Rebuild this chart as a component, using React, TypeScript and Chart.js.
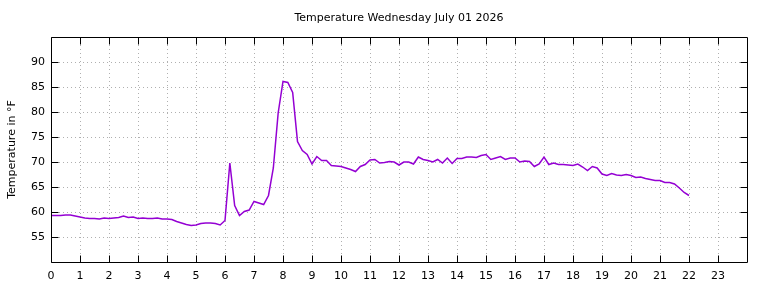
import { useEffect, useRef } from "react";
import { Chart, registerables } from "chart.js";

Chart.register(...registerables);

const TITLE = "Temperature Wednesday July 01 2026";
const Y_TITLE = "Temperature in °F";
const STEP_HOURS = 10 / 60; // one reading every 10 minutes, starting at 0:00
const TEMPS: number[] = [
  // 0h
  59.3, 59.3, 59.3, 59.4, 59.4, 59.2,
  // 1h
  59.0, 58.8, 58.7, 58.7, 58.6, 58.8,
  // 2h
  58.7, 58.8, 58.9, 59.2, 58.9, 59.0,
  // 3h
  58.7, 58.8, 58.7, 58.7, 58.8, 58.6,
  // 4h
  58.6, 58.5, 58.1, 57.8, 57.5, 57.3,
  // 5h
  57.4, 57.7, 57.8, 57.8, 57.7, 57.4,
  // 6h
  58.3, 69.8, 61.3, 59.3, 60.1, 60.4,
  // 7h
  62.1, 61.8, 61.5, 63.3, 68.8, 79.8,
  // 8h
  86.1, 85.9, 83.9, 74.1, 72.3, 71.5,
  // 9h
  69.6, 71.1, 70.3, 70.3, 69.3, 69.2,
  // 10h
  69.1, 68.8, 68.5, 68.1, 69.1, 69.5,
  // 11h
  70.4, 70.5, 69.8, 69.9, 70.1, 70.0,
  // 12h
  69.4, 70.0, 70.0, 69.6, 71.0, 70.5,
  // 13h
  70.3, 70.0, 70.5, 69.8, 70.8, 69.7,
  // 14h
  70.7, 70.7, 71.0, 71.0, 70.9, 71.3,
  // 15h
  71.5, 70.5, 70.8, 71.1, 70.5, 70.8,
  // 16h
  70.8, 70.0, 70.2, 70.1, 69.1, 69.6,
  // 17h
  71.0, 69.5, 69.8, 69.5, 69.5, 69.4,
  // 18h
  69.3, 69.6, 69.0, 68.3, 69.1, 68.8,
  // 19h
  67.6, 67.3, 67.7, 67.4, 67.3, 67.5,
  // 20h
  67.3, 66.9, 67.0, 66.7, 66.5, 66.3,
  // 21h
  66.3, 65.9, 65.9, 65.6, 64.8, 63.9,
  // 22h
  63.3,
];

const X_MIN = 0;
const X_MAX = 24;
const Y_MIN = 50;
const Y_MAX = 95;
const X_TICKS = [0, 1, 2, 3, 4, 5, 6, 7, 8, 9, 10, 11, 12, 13, 14, 15, 16, 17, 18, 19, 20, 21, 22, 23];
const Y_TICKS = [55, 60, 65, 70, 75, 80, 85, 90];

const FONT = "'DejaVu Sans', sans-serif";
const LINE_COLOR = "#9400d3";
const GRID_COLOR = "#b0b0b0";
const TICK_LEN = 7;

const framePlugin = {
  id: "gnuFrame",
  beforeDatasetsDraw(chart: any) {
    const { ctx, chartArea: a, scales } = chart;
    const xs = scales.x;
    const ys = scales.y;
    ctx.save();
    ctx.strokeStyle = GRID_COLOR;
    ctx.lineWidth = 1;
    ctx.setLineDash([1, 3]);
    for (const v of X_TICKS) {
      const px = Math.round(xs.getPixelForValue(v)) + 0.5;
      if (px <= a.left + 1 || px >= a.right - 1) continue;
      ctx.beginPath();
      ctx.moveTo(px, a.top);
      ctx.lineTo(px, a.bottom);
      ctx.stroke();
    }
    for (const v of Y_TICKS) {
      const py = Math.round(ys.getPixelForValue(v)) + 0.5;
      ctx.beginPath();
      ctx.moveTo(a.left, py);
      ctx.lineTo(a.right, py);
      ctx.stroke();
    }
    ctx.restore();
  },
  afterDatasetsDraw(chart: any) {
    const { ctx, chartArea: a, scales } = chart;
    const xs = scales.x;
    const ys = scales.y;
    const L = Math.round(a.left) + 0.5;
    const R = Math.round(a.right) + 0.5;
    const T = Math.round(a.top) + 0.5;
    const B = Math.round(a.bottom) + 0.5;
    ctx.save();
    ctx.strokeStyle = "#000";
    ctx.lineWidth = 1;
    ctx.setLineDash([]);
    ctx.beginPath();
    ctx.rect(L, T, R - L, B - T);
    ctx.stroke();
    ctx.beginPath();
    for (const v of X_TICKS) {
      const px = Math.round(xs.getPixelForValue(v)) + 0.5;
      ctx.moveTo(px, B);
      ctx.lineTo(px, B - TICK_LEN);
      ctx.moveTo(px, T);
      ctx.lineTo(px, T + TICK_LEN);
    }
    for (const v of Y_TICKS) {
      const py = Math.round(ys.getPixelForValue(v)) + 0.5;
      ctx.moveTo(L, py);
      ctx.lineTo(L + TICK_LEN, py);
      ctx.moveTo(R, py);
      ctx.lineTo(R - TICK_LEN, py);
    }
    ctx.stroke();
    // title centred over the plot area
    ctx.fillStyle = "#000";
    ctx.font = `11px ${FONT}`;
    ctx.textAlign = "center";
    ctx.textBaseline = "middle";
    ctx.fillText(TITLE, (a.left + a.right) / 2, 18);
    ctx.restore();
  },
};

export default function App() {
  const ref = useRef<HTMLCanvasElement>(null);

  useEffect(() => {
    if (!ref.current) return;
    const points = TEMPS.map((t, i) => ({ x: X_MIN + i * STEP_HOURS, y: t }));
    const chart = new Chart(ref.current, {
      type: "line",
      data: {
        datasets: [
          {
            data: points,
            borderColor: LINE_COLOR,
            borderWidth: 1.5,
            pointRadius: 0,
            tension: 0,
            fill: false,
          },
        ],
      },
      options: {
        responsive: false,
        animation: false,
        layout: { padding: { left: 0, right: 21, top: 37, bottom: 0 } },
        plugins: {
          legend: { display: false },
          tooltip: { enabled: false },
          title: { display: false },
        },
        scales: {
          x: {
            type: "linear",
            min: X_MIN,
            max: X_MAX,
            afterBuildTicks: (s: any) => {
              s.ticks = X_TICKS.map((v) => ({ value: v }));
            },
            afterFit: (s: any) => {
              s.height = 26;
            },
            grid: { display: false, drawTicks: false },
            border: { display: false },
            ticks: {
              color: "#000",
              font: { family: FONT, size: 11 },
              padding: 8,
              maxRotation: 0,
              autoSkip: false,
              callback: (v: any) => String(v),
            },
          },
          y: {
            type: "linear",
            min: Y_MIN,
            max: Y_MAX,
            afterBuildTicks: (s: any) => {
              s.ticks = Y_TICKS.map((v) => ({ value: v }));
            },
            afterFit: (s: any) => {
              s.width = 51;
            },
            grid: { display: false, drawTicks: false },
            border: { display: false },
            title: {
              display: true,
              text: Y_TITLE,
              color: "#000",
              font: { family: FONT, size: 11, weight: "normal", lineHeight: 1.2 },
              padding: { top: 6, bottom: 0 },
            },
            ticks: {
              color: "#000",
              font: { family: FONT, size: 11 },
              padding: 6,
              callback: (v: any) => String(v),
            },
          },
        },
      },
      plugins: [framePlugin],
    });
    return () => chart.destroy();
  }, []);

  return (
    <div style={{ position: "absolute", left: 0, top: 0, width: 768, height: 288, background: "#fff" }}>
      <canvas ref={ref} width={768} height={288} style={{ display: "block" }} />
    </div>
  );
}
